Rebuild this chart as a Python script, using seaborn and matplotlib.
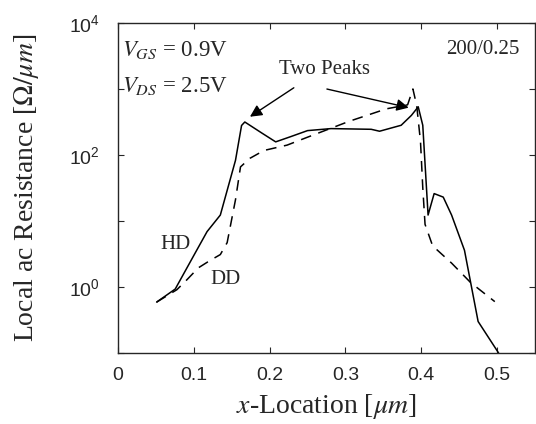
import pandas as pd
import seaborn as sns
import matplotlib.pyplot as plt
from matplotlib.ticker import FixedLocator, NullLocator

# x-location [um] and local ac resistance [ohm/um]
hd_x = [0.051, 0.0755, 0.102, 0.1175, 0.135, 0.155, 0.163, 0.1673, 0.190, 0.208, 0.228,
        0.250, 0.281, 0.334, 0.345, 0.3735, 0.387, 0.396, 0.402, 0.409, 0.417, 0.429,
        0.440, 0.457, 0.475, 0.502]
hd_y = [0.59, 0.93, 3.3, 6.9, 12.3, 83, 280, 316, 214, 158, 190,
        234, 251, 245, 229, 282, 398, 537, 282, 12.3, 26, 23,
        12.3, 3.6, 0.30, 0.10]

dd_x = [0.051, 0.0777, 0.091, 0.106, 0.1197, 0.135, 0.144, 0.155, 0.1616, 0.174, 0.1925,
        0.223, 0.250, 0.305, 0.354, 0.382, 0.389, 0.394, 0.399, 0.402, 0.405, 0.415,
        0.44, 0.465, 0.497]
dd_y = [0.59, 0.91, 1.29, 1.95, 2.45, 3.1, 4.7, 21, 66, 89, 117,
        141, 186, 324, 500, 575, 1000, 560, 160, 32, 8.9, 4.2,
        2.3, 1.17, 0.60]

df = pd.concat([
    pd.DataFrame({'x': hd_x, 'R': hd_y, 'model': 'HD'}),
    pd.DataFrame({'x': dd_x, 'R': dd_y, 'model': 'DD'}),
])

sns.set_style("ticks")
plt.rcParams['font.family'] = ['Liberation Serif', 'DejaVu Serif']
plt.rcParams['mathtext.fontset'] = 'stix'

fig = plt.figure(figsize=(5.36, 4.24), dpi=100)
ax = fig.add_axes([0.2201, 0.1675, 0.7780, 0.7783])

sns.lineplot(data=df[df.model == 'HD'], x='x', y='R', color='black', lw=1.1,
             sort=False, estimator=None, ax=ax, legend=False)
sns.lineplot(data=df[df.model == 'DD'], x='x', y='R', color='black', lw=1.1,
             sort=False, estimator=None, ax=ax, legend=False)
ax.lines[1].set_dashes([7, 5])

ax.set_yscale('log')
ax.set_xlim(0, 0.55)
ax.set_ylim(0.1, 1e4)
ax.set_xticks([0, 0.1, 0.2, 0.3, 0.4, 0.5])
ax.set_xticklabels(['0', '0.1', '0.2', '0.3', '0.4', '0.5'])
ax.yaxis.set_major_locator(FixedLocator([1e-1, 1e0, 1e1, 1e2, 1e3, 1e4]))
ax.yaxis.set_minor_locator(NullLocator())
ax.set_yticklabels(['', r'$\mathregular{10^0}$', '', r'$\mathregular{10^2}$', '',
                    r'$\mathregular{10^4}$'])
ax.tick_params(direction='in', top=True, right=True, length=4, width=0.8,
               labelsize=14)
ax.tick_params(axis='x', pad=10)
ax.tick_params(axis='y', pad=13)
for lab in ax.get_xticklabels() + ax.get_yticklabels():
    lab.set_family(['Liberation Sans', 'DejaVu Sans'])
for sp in ax.spines.values():
    sp.set_linewidth(1.0)

ax.set_xlabel(r'$x$-Location [$\mu m$]', fontsize=20, labelpad=6)
ax.set_ylabel(r'Local ac Resistance [$\Omega/\mu m$]', fontsize=20, labelpad=20)

ax.text(0.005, 3.9e3, r'$V_{GS}$ = 0.9V', fontsize=16.5, va='center', ha='left')
ax.text(0.005, 1.1e3, r'$V_{DS}$ = 2.5V', fontsize=16.5, va='center', ha='left')
ax.text(0.53, 3.9e3, '200/0.25', fontsize=15, va='center', ha='right')
ax.text(0.272, 2.0e3, 'Two Peaks', fontsize=15, va='center', ha='center')
ax.text(0.076, 4.4, 'HD', fontsize=15, va='center', ha='center')
ax.text(0.142, 1.3, 'DD', fontsize=15, va='center', ha='center')

arrow = dict(arrowstyle='-|>', color='black', lw=1.0, mutation_scale=18)
ax.annotate('', xy=(0.171, 360), xytext=(0.235, 1100), arrowprops=arrow)
ax.annotate('', xy=(0.387, 510), xytext=(0.272, 1020), arrowprops=arrow)

fig.savefig('out.png', dpi=100)
